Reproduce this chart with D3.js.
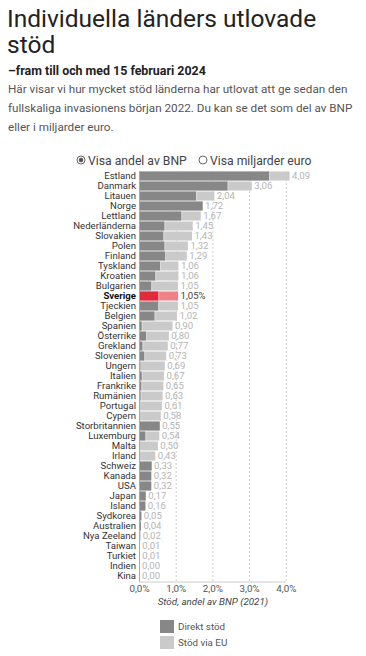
<!DOCTYPE html>
<html><head><meta charset="utf-8">
<script src="https://cdn.jsdelivr.net/npm/d3@7"></script>
<style>
body{margin:0;background:#fff;}
svg{display:block;}
</style></head>
<body>
<svg id="c" width="366" height="656"></svg>
<script>
const countries = ["Estland","Danmark","Litauen","Norge","Lettland","Nederländerna","Slovakien","Polen","Finland","Tyskland","Kroatien","Bulgarien","Sverige","Tjeckien","Belgien","Spanien","Österrike","Grekland","Slovenien","Ungern","Italien","Frankrike","Rumänien","Portugal","Cypern","Storbritannien","Luxemburg","Malta","Irland","Schweiz","Kanada","USA","Japan","Island","Sydkorea","Australien","Nya Zeeland","Taiwan","Turkiet","Indien","Kina"];
const totals = [4.09,3.06,2.04,1.72,1.67,1.45,1.43,1.32,1.29,1.06,1.06,1.05,1.05,1.05,1.02,0.90,0.80,0.77,0.73,0.69,0.67,0.65,0.63,0.61,0.58,0.55,0.54,0.50,0.43,0.33,0.32,0.32,0.17,0.16,0.05,0.04,0.02,0.01,0.01,0.00,0.00];
const direct = [3.53,2.40,1.54,1.72,1.14,0.68,0.65,0.68,0.70,0.56,0.43,0.32,0.51,0.51,0.41,0.06,0.18,0.08,0.13,0.02,0.06,0.05,0.03,0.01,0.00,0.55,0.16,0.00,0.00,0.33,0.32,0.32,0.17,0.16,0.05,0.04,0.02,0.01,0.01,0.00,0.00];
const ticks = [0,1,2,3,4];
const legendLabels = ["Direkt stöd","Stöd via EU"];
const highlight = "Sverige";

const svg = d3.select("#c");
const F = "Roboto, 'Noto Sans', sans-serif";
const fmt = v => v.toFixed(2).replace(".", ",");

// Header
svg.append("text").attr("x",7).attr("y",27).attr("font-family",F).attr("font-size",24.5).attr("fill","#222").text("Individuella länders utlovade");
svg.append("text").attr("x",7).attr("y",53).attr("font-family",F).attr("font-size",24.5).attr("fill","#222").text("stöd");
svg.append("text").attr("x",8).attr("y",75).attr("font-family",F).attr("font-size",12.4).attr("font-weight",700).attr("fill","#222").text("–fram till och med 15 februari 2024");
const desc = ["Här visar vi hur mycket stöd länderna har utlovat att ge sedan den","fullskaliga invasionens början 2022. Du kan se det som del av BNP","eller i miljarder euro."];
desc.forEach((t,i)=>svg.append("text").attr("x",8).attr("y",93+i*19).attr("font-family",F).attr("font-size",11.7).attr("fill","#555").text(t));

// Radio buttons
svg.append("circle").attr("cx",81).attr("cy",160).attr("r",4).attr("fill","#fff").attr("stroke","#666").attr("stroke-width",1);
svg.append("circle").attr("cx",81).attr("cy",160).attr("r",2.2).attr("fill","#555");
svg.append("text").attr("x",88).attr("y",164.5).attr("font-family",F).attr("font-size",12.2).attr("fill","#444").text("Visa andel av BNP");
svg.append("circle").attr("cx",203).attr("cy",160).attr("r",4).attr("fill","#fff").attr("stroke","#666").attr("stroke-width",1);
svg.append("text").attr("x",210).attr("y",164.5).attr("font-family",F).attr("font-size",12.2).attr("fill","#444").text("Visa miljarder euro");

// Scales
const x = d3.scaleLinear().domain([0,4]).range([139.5,286.3]);
const y = d3.scaleBand().domain(countries).range([171,581]).paddingInner(0.1).paddingOuter(0.05);

// Gridlines
svg.append("g").selectAll("line").data(ticks.slice(1)).join("line")
  .attr("x1",d=>x(d)).attr("x2",d=>x(d)).attr("y1",171).attr("y2",582)
  .attr("stroke","#d0d0d0").attr("stroke-dasharray","2,2").attr("stroke-width",1);

const rows = countries.map((c,i)=>({c, total: totals[i], direct: direct[i]}));

// EU bars
svg.append("g").selectAll("rect").data(rows).join("rect")
  .attr("x",x(0)).attr("y",d=>y(d.c)).attr("height",y.bandwidth())
  .attr("width",d=>Math.max(0,x(d.total)-x(0)))
  .attr("fill",d=>d.c===highlight?"#f0808a":"#cacaca");
// direct bars
svg.append("g").selectAll("rect").data(rows).join("rect")
  .attr("x",x(0)).attr("y",d=>y(d.c)).attr("height",y.bandwidth())
  .attr("width",d=>Math.max(0,x(d.direct)-x(0)))
  .attr("fill",d=>d.c===highlight?"#e12a3c":"#878787");
// separator between direct and EU
svg.append("g").selectAll("line").data(rows.filter(d=>d.total-d.direct>0.02 && d.direct>0.02)).join("line")
  .attr("x1",d=>x(d.direct)+0.5).attr("x2",d=>x(d.direct)+0.5)
  .attr("y1",d=>y(d.c)).attr("y2",d=>y(d.c)+y.bandwidth())
  .attr("stroke","#fff").attr("stroke-width",0.6).attr("opacity",0.6);

// Country labels
svg.append("g").selectAll("text").data(rows).join("text")
  .attr("x",136).attr("y",d=>y(d.c)+y.bandwidth()/2).attr("dy","0.35em")
  .attr("text-anchor","end").attr("font-family",F).attr("font-size",9.6)
  .attr("font-weight",d=>d.c===highlight?700:400)
  .attr("fill",d=>d.c===highlight?"#111":"#333").text(d=>d.c);

// Value labels
svg.append("g").selectAll("text").data(rows).join("text")
  .attr("x",d=>x(d.total)+2.5).attr("y",d=>y(d.c)+y.bandwidth()/2).attr("dy","0.35em")
  .attr("font-family",F).attr("font-size",9.6)
  .attr("fill",d=>d.c===highlight?"#444":"#b5b5b5")
  .text(d=>fmt(d.total)+(d.c===highlight?"%":""));

// Axes lines
svg.append("line").attr("x1",x(0)).attr("x2",x(0)).attr("y1",171).attr("y2",582).attr("stroke","#aaa");
svg.append("line").attr("x1",x(0)).attr("x2",x(4)).attr("y1",582).attr("y2",582).attr("stroke","#ccc");

// Tick labels
svg.append("g").selectAll("text").data(ticks).join("text")
  .attr("x",d=>x(d)).attr("y",592).attr("text-anchor","middle")
  .attr("font-family",F).attr("font-size",9.8).attr("fill","#555")
  .text(d=>d.toFixed(1).replace(".",",")+"%");
svg.append("text").attr("x",x(2)).attr("y",605).attr("text-anchor","middle")
  .attr("font-family",F).attr("font-size",9.8).attr("font-style","italic").attr("fill","#444")
  .text("Stöd, andel av BNP (2021)");

// Legend
const lg = svg.append("g");
lg.selectAll("rect").data(legendLabels).join("rect")
  .attr("x",160).attr("y",(d,i)=>620+i*16).attr("width",14).attr("height",13)
  .attr("fill",(d,i)=>i===0?"#878787":"#cacaca");
lg.selectAll("text").data(legendLabels).join("text")
  .attr("x",178).attr("y",(d,i)=>627+i*16).attr("dy","0.35em")
  .attr("font-family",F).attr("font-size",9.8).attr("fill","#555").text(d=>d);
</script>
</body></html>
